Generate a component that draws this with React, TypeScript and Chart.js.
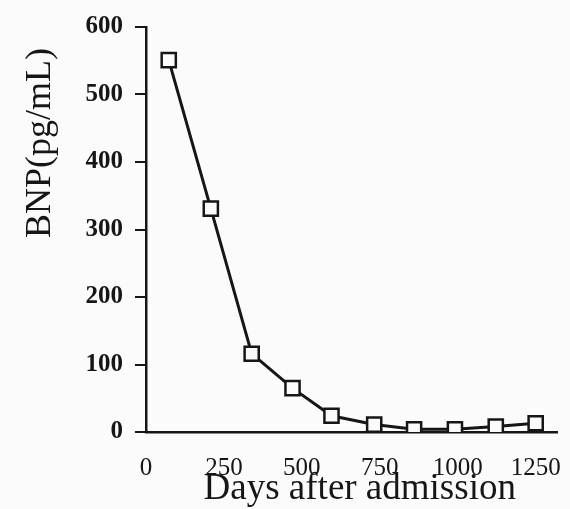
import React, { useEffect, useRef } from "react";
import { Chart, registerables } from "chart.js";

Chart.register(...registerables);

const days = [73, 208, 339, 470, 595, 732, 860, 991, 1122, 1250];
const bnp = [551, 331, 116, 65, 24, 11, 4, 4, 8, 13];
const xTickValues = [0, 250, 500, 750, 1000, 1250];
const yTickValues = [0, 100, 200, 300, 400, 500, 600];
const xTitle = "Days after admission";
const yTitle = "BNP(pg/mL)";

const FONT = '"Liberation Serif", "Times New Roman", serif';
const INK = "#161616";
const BG = "#fbfbfb";

const titlesPlugin = {
  id: "customTitles",
  beforeDraw(chart: any) {
    const { ctx, width, height } = chart;
    ctx.save();
    ctx.fillStyle = BG;
    ctx.fillRect(0, 0, width, height);
    ctx.restore();
  },
  afterDraw(chart: any) {
    const { ctx, chartArea } = chart;
    ctx.save();
    ctx.fillStyle = INK;
    ctx.font = `37px ${FONT}`;
    ctx.textAlign = "center";
    ctx.textBaseline = "alphabetic";
    ctx.fillText(xTitle, (chartArea.left + chartArea.right) / 2 + 8, chartArea.bottom + 67);
    ctx.translate(50, chartArea.top + 116);
    ctx.rotate(-Math.PI / 2);
    ctx.font = `36px ${FONT}`;
    ctx.fillText(yTitle, 0, 0);
    ctx.restore();
  },
};

export default function App() {
  const ref = useRef<HTMLCanvasElement | null>(null);
  useEffect(() => {
    if (!ref.current) return;
    const chart = new Chart(ref.current, {
      type: "line",
      data: {
        datasets: [
          {
            data: days.map((d, i) => ({ x: d, y: bnp[i] })),
            borderColor: INK,
            borderWidth: 3,
            pointStyle: "rect",
            pointRadius: 10,
            pointBorderWidth: 2.5,
            pointBorderColor: INK,
            pointBackgroundColor: BG,
            tension: 0,
          },
        ],
      },
      options: {
        responsive: false,
        animation: false,
        layout: { padding: { top: 20, right: 11, bottom: 0, left: 0 } },
        plugins: { legend: { display: false }, tooltip: { enabled: false }, title: { display: false } },
        scales: {
          x: {
            type: "linear",
            min: 0,
            max: 1320,
            afterBuildTicks: (scale: any) => {
              scale.ticks = xTickValues.map((v) => ({ value: v }));
            },
            afterFit: (scale: any) => {
              scale.height = 77;
            },
            grid: { display: true, drawOnChartArea: false, drawTicks: true, tickLength: 21, color: "rgba(0,0,0,0)" },
            border: { display: true, color: INK, width: 2.5 },
            ticks: {
              color: INK,
              padding: 0,
              maxRotation: 0,
              autoSkip: false,
              font: { family: FONT, size: 25 },
              callback: (v: any) => String(v),
            },
          },
          y: {
            type: "linear",
            min: 0,
            max: 600,
            afterBuildTicks: (scale: any) => {
              scale.ticks = yTickValues.map((v) => ({ value: v }));
            },
            afterFit: (scale: any) => {
              scale.width = 146;
            },
            grid: { display: true, drawOnChartArea: false, drawTicks: true, tickLength: 11, color: INK, lineWidth: 2 },
            border: { display: true, color: INK, width: 2.5 },
            ticks: {
              color: INK,
              padding: 12,
              font: { family: FONT, size: 25, weight: "bold" },
              callback: (v: any) => String(v),
            },
          },
        },
      },
      plugins: [titlesPlugin],
    } as any);
    return () => chart.destroy();
  }, []);
  return (
    <div style={{ position: "fixed", left: 0, top: 0, width: 570, height: 509, background: BG }}>
      <canvas ref={ref} width={570} height={509} />
    </div>
  );
}
